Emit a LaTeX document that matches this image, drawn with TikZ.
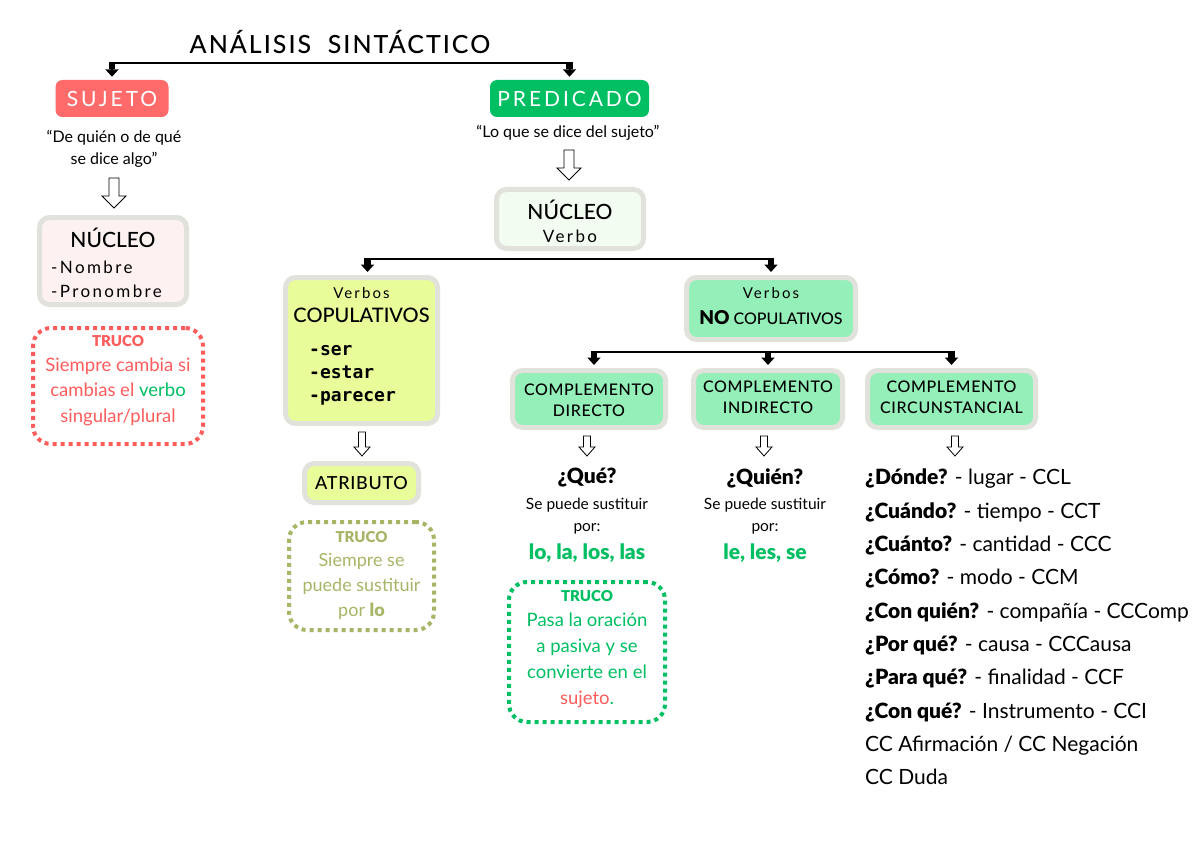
\documentclass[tikz,border=0pt]{standalone}
\usepackage{fontspec}
\setmainfont{Lato}
\newfontfamily\spacedf[LetterSpace=14]{Lato}
\newfontfamily\titlef[LetterSpace=8]{Lato Medium}
\newfontfamily\capsf[LetterSpace=4]{Lato Medium}
\newfontfamily\medf{Lato Medium}
\newfontfamily\heavyf{Lato Black}
\newfontfamily\monof{DejaVu Sans Mono}
\usetikzlibrary{arrows.meta}
\definecolor{sujred}{HTML}{FF6B6B}
\definecolor{predgreen}{HTML}{00BF63}
\definecolor{bordergray}{HTML}{E2E2DC}
\definecolor{nucpink}{HTML}{FEF2F1}
\definecolor{nucgreen}{HTML}{F2FCF1}
\definecolor{yel}{HTML}{E8FC9A}
\definecolor{mint}{HTML}{94EFB8}
\definecolor{trred}{HTML}{FF5C5C}
\definecolor{trgreen}{HTML}{00BF63}
\definecolor{olive}{HTML}{A5B767}
\tikzset{
  fillbox/.style={rounded corners=7pt, inner sep=0pt, text=white},
  graybox/.style={draw=bordergray, line width=5pt, rounded corners=10pt, inner sep=0pt},
  trucobox/.style={line width=4pt, dash pattern=on 4pt off 4pt, rounded corners=18pt, inner sep=0pt},
  tree/.style={line width=2pt, -{Rectangle[width=6.5pt,length=7pt,sep=0pt]Triangle[width=13pt,length=7.5pt,sep=0pt]}, shorten >=3pt},
  txt/.style={inner sep=0pt, align=center},
  pics/holarr/.style args={#1/#2/#3/#4}{code={
    \draw[line width=0.8pt, fill=white, line join=miter]
      (-#2,0) -- (#2,0) -- (#2,#1-#4) -- (#3,#1-#4) -- (0,#1) -- (-#3,#1-#4) -- (-#2,#1-#4) -- cycle;
  }}
}
\begin{document}
\begin{tikzpicture}[x=1pt,y=-1pt]
\fill[white] (0,0) rectangle (1200,848);
\useasboundingbox (0,0) rectangle (1200,848);

% title
\node[txt, font=\titlef\fontsize{25}{30}\selectfont] (title) at (340,42) {ANÁLISIS\ \ SINTÁCTICO};

% level 1
\node[fillbox, fill=sujred, minimum width=113, minimum height=37, font=\spacedf\fontsize{21}{24}\selectfont] (suj) at (112,98.5) {SUJETO};
\node[fillbox, fill=predgreen, minimum width=159, minimum height=37, font=\spacedf\fontsize{21}{24}\selectfont] (pred) at (569.5,98.5) {PREDICADO};
\coordinate (j1) at (340,63);
\draw[tree] (j1) -| (suj.north);
\draw[tree] (j1) -| (pred.north);

% sujeto branch
\node[txt, font=\fontsize{16}{22}\selectfont] (qs) at (114,149) {“De quién o de qué\\se dice algo”};
\pic at (114,178) {holarr=30/5/12/12};
\node[graybox, fill=nucpink, minimum width=147, minimum height=87] (nucs) at (113,261) {};
\node[txt, font=\medf\fontsize{21}{24}\selectfont] (nucst) at (113,238) {NÚCLEO};
\node[txt, align=left, anchor=west, font=\spacedf\fontsize{17}{24}\selectfont] (nucsl) at (51,279) {-Nombre\\-Pronombre};
\node[trucobox, draw=trred, minimum width=170, minimum height=116] (tr1) at (118,386) {};
\node[txt, text=trred, font=\heavyf\fontsize{15}{16}\selectfont] (tr1h) at (118,341) {TRUCO};
\node[txt, text=trred, font=\fontsize{18.5}{25.5}\selectfont] (tr1t) at (118,391.5) {Siempre cambia si\\cambias el \textcolor{predgreen}{verbo}\\singular/plural};

% predicado branch
\node[txt, font=\fontsize{16}{22}\selectfont] (qp) at (568,133) {“Lo que se dice del sujeto”};
\pic at (569,150) {holarr=30/5/12/12};
\node[graybox, fill=nucgreen, minimum width=147, minimum height=59] (nucp) at (570,219) {};
\node[txt, font=\medf\fontsize{21}{24}\selectfont] (nucpt) at (570,210) {NÚCLEO};
\node[txt, font=\spacedf\fontsize{17}{24}\selectfont] (nucpv) at (570,236) {Verbo};

% level 2
\node[graybox, fill=yel, minimum width=152, minimum height=146] (cop) at (361.5,350.5) {};
\node[graybox, fill=mint, minimum width=169, minimum height=62] (nocop) at (771,308.5) {};
\coordinate (j2) at (570,259);
\draw[tree] (j2) -| ([xshift=6pt]cop.north);
\draw[tree] (j2) -| (nocop.north);

\node[txt, font=\spacedf\fontsize{15}{16}\selectfont] (copv) at (361.5,293) {Verbos};
\node[txt, font=\medf\fontsize{20}{22}\selectfont] (copt) at (361.5,315) {COPULATIVOS};
\node[txt, align=left, anchor=west, font=\monof\bfseries\fontsize{18}{23}\selectfont] (copl) at (309,375) {-ser\\-estar\\-parecer};

\pic at (362,432) {holarr=24/3.5/8/9};
\node[graybox, fill=yel, minimum width=114, minimum height=39, font=\capsf\fontsize{18}{22}\selectfont] (atr) at (361.5,483) {ATRIBUTO};
\node[trucobox, draw=olive, minimum width=145, minimum height=108] (tr2) at (361.5,576) {};
\node[txt, text=olive, font=\heavyf\fontsize{15}{16}\selectfont] (tr2h) at (361.5,537) {TRUCO};
\node[txt, text=olive, font=\fontsize{18}{25}\selectfont] (tr2t) at (361.5,586) {Siempre se\\puede sustituir\\por {\heavyf lo}};

\node[txt, font=\spacedf\fontsize{15}{16}\selectfont] (nocv) at (771,293) {Verbos};
\node[txt, font=\medf\fontsize{16}{22}\selectfont] (noct) at (771,318) {{\heavyf\fontsize{19}{22}\selectfont NO} COPULATIVOS};

% level 3
\node[graybox, fill=mint, minimum width=153, minimum height=57] (cd) at (589,399) {};
\node[graybox, fill=mint, minimum width=149, minimum height=57] (ci) at (768,399) {};
\node[graybox, fill=mint, minimum width=168, minimum height=57] (cc) at (951.5,399) {};
\coordinate (j3) at (770,352);
\draw[tree] (j3) -| ([xshift=5pt]cd.north);
\draw[tree] (j3) -| (ci.north);
\draw[tree] (j3) -| (cc.north);
\node[txt, font=\capsf\fontsize{16}{21}\selectfont] (cdt) at (589,400.5) {COMPLEMENTO\\DIRECTO};
\node[txt, font=\capsf\fontsize{16}{21}\selectfont] (cit) at (768,397.5) {COMPLEMENTO\\INDIRECTO};
\node[txt, font=\capsf\fontsize{16}{21}\selectfont] (cct) at (951.5,397) {COMPLEMENTO\\CIRCUNSTANCIAL};

\pic at (587,436) {holarr=20/3.5/8/9};
\pic at (764,436) {holarr=20/3.5/8/9};
\pic at (955,436) {holarr=20/3.5/8/9};

% CD
\node[txt, font=\heavyf\fontsize{21}{24}\selectfont] (cdq) at (587,478) {¿Qué?};
\node[txt, font=\fontsize{15.5}{22}\selectfont] (cds) at (587,516) {Se puede sustituir\\por:};
\node[txt, text=trgreen, font=\heavyf\fontsize{21}{22}\selectfont] (cdp) at (587,553) {lo, la, los, las};
\node[trucobox, draw=trgreen, minimum width=156, minimum height=140] (tr3) at (587,652) {};
\node[txt, text=trgreen, font=\heavyf\fontsize{15}{16}\selectfont] (tr3h) at (587,596) {TRUCO};
\node[txt, text=trgreen, font=\fontsize{18.5}{26}\selectfont] (tr3t) at (587,660) {Pasa la oración\\a pasiva y se\\convierte en el\\\textcolor{trred}{sujeto}.};

% CI
\node[txt, font=\heavyf\fontsize{21}{24}\selectfont] (ciq) at (765,478) {¿Quién?};
\node[txt, font=\fontsize{15.5}{22}\selectfont] (cis) at (765,516) {Se puede sustituir\\por:};
\node[txt, text=trgreen, font=\heavyf\fontsize{21}{22}\selectfont] (cip) at (765,553) {le, les, se};

% CC list
\node[txt, align=left, anchor=north west, font=\fontsize{21}{33.3}\selectfont] (ccl) at (865,469) {%
{\heavyf ¿Dónde?} - lugar - CCL\\
{\heavyf ¿Cuándo?} - tiempo - CCT\\
{\heavyf ¿Cuánto?} - cantidad - CCC\\
{\heavyf ¿Cómo?} - modo - CCM\\
{\heavyf ¿Con quién?} - compañía - CCComp\\
{\heavyf ¿Por qué?} - causa - CCCausa\\
{\heavyf ¿Para qué?} - finalidad - CCF\\
{\heavyf ¿Con qué?} - Instrumento - CCI\\
CC Afirmación / CC Negación\\
CC Duda};
\end{tikzpicture}
\end{document}
